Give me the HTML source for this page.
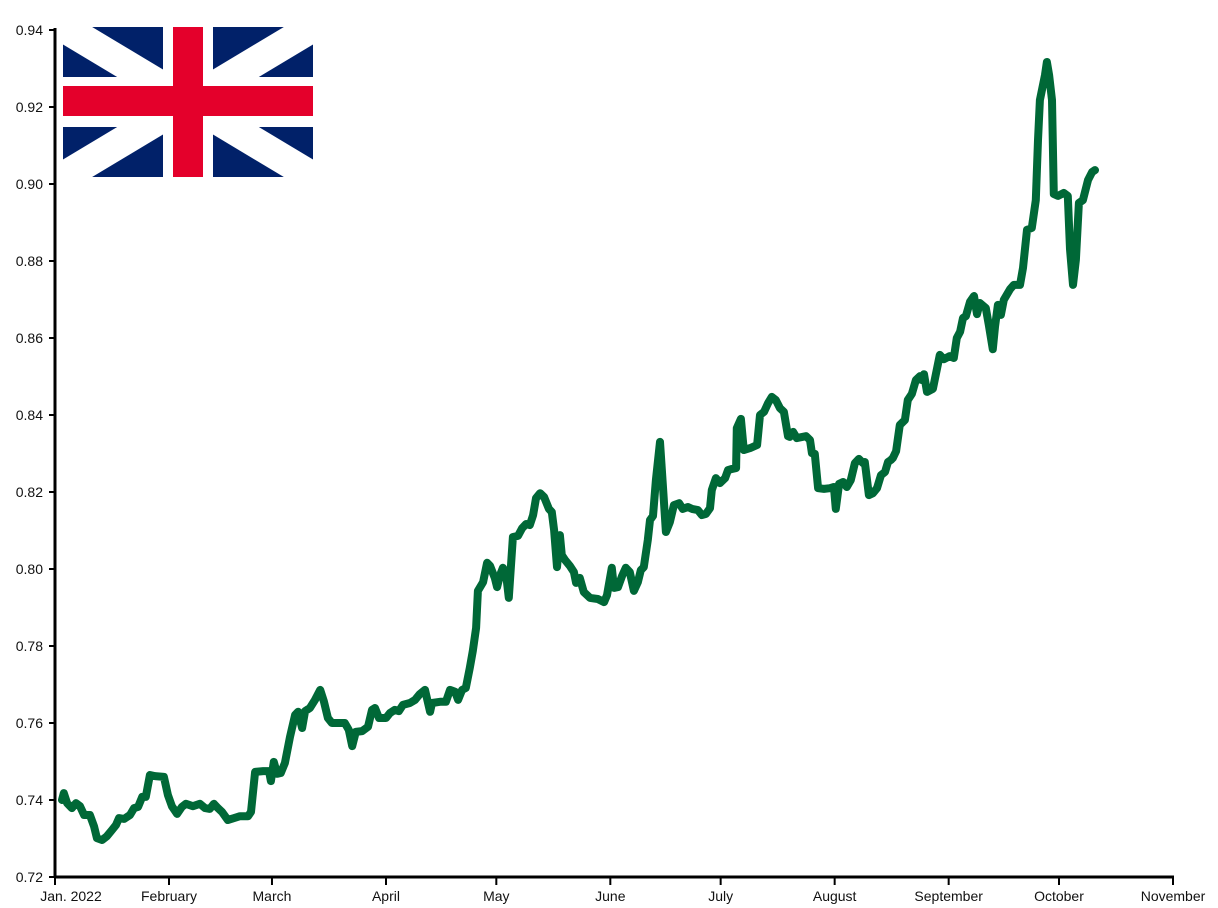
<!DOCTYPE html>
<html><head><meta charset="utf-8"><style>
html,body{margin:0;padding:0;background:#fff;}
svg{display:block;font-family:"Liberation Sans",sans-serif;}
</style></head><body>
<svg id="chart" width="1218" height="908" viewBox="0 0 1218 908" xmlns="http://www.w3.org/2000/svg">
<g>
<svg x="63" y="27" width="250" height="150" viewBox="0 0 250 150">
<rect width="250" height="150" fill="#012169"/>
<line x1="0" y1="0" x2="250" y2="150" stroke="#fff" stroke-width="30"/>
<line x1="250" y1="0" x2="0" y2="150" stroke="#fff" stroke-width="30"/>
<rect x="100" y="0" width="50" height="150" fill="#fff"/>
<rect x="0" y="50" width="250" height="50" fill="#fff"/>
<rect x="110" y="0" width="30" height="150" fill="#e4002b"/>
<rect x="0" y="59" width="250" height="30" fill="#e4002b"/>
</svg>
</g>
<g id="axes"></g>
<path id="line" fill="none" stroke="#006837" stroke-width="8" stroke-linejoin="round" stroke-linecap="round"/>
</svg>
<script>
const days=[1.9,2.4,3.3,4.6,5.7,6.8,7.9,9.5,10.6,11.4,12.8,14.1,15.5,16.6,17.4,18.8,20.4,21.5,22.6,23.7,24.7,25.8,27.2,29.6,30.7,31.8,33.2,34.5,35.6,37.5,39.4,40.8,42.1,43.2,44.3,45.4,47.0,48.7,50.3,52.5,53.3,54.4,56.6,58.2,58.7,59.5,60.4,61.4,62.5,63.9,65.3,66.1,67.2,68.0,69.3,70.7,72.1,73.1,74.2,75.3,78.8,79.9,80.8,81.8,83.5,85.1,86.2,87.0,88.1,90.0,91.1,92.4,93.5,94.6,96.5,97.9,99.2,100.6,102.0,102.5,104.7,106.3,107.4,108.8,109.6,110.7,111.7,112.8,113.6,114.5,115.0,116.4,117.5,118.3,119.6,120.2,121.0,121.8,122.6,123.4,124.5,125.9,127.0,128.1,129.1,130.0,130.8,131.9,133.0,134.3,135.1,135.7,136.5,137.3,137.8,138.7,140.0,141.1,141.7,142.7,143.8,145.5,147.6,149.3,150.1,151.4,152.0,153.1,154.2,155.2,156.3,157.4,158.5,159.3,160.1,161.2,161.8,162.6,163.4,164.5,165.3,166.1,167.2,168.3,169.7,170.7,172.1,173.2,174.8,175.9,177.0,178.1,178.6,179.7,180.8,182.2,183.0,184.1,185.2,185.4,186.5,187.3,189.0,190.9,191.7,192.8,193.9,194.9,196.0,197.1,198.2,199.3,199.8,200.7,201.7,204.2,205.3,205.8,206.6,207.5,209.1,210.7,211.8,212.3,213.2,214.3,215.3,216.4,217.5,218.6,219.7,220.2,221.3,222.4,223.5,224.6,225.7,226.5,227.3,227.8,228.7,229.7,231.1,231.9,233.0,234.1,235.2,235.7,236.3,237.1,238.7,240.6,241.7,243.3,244.4,245.2,246.1,246.9,247.7,248.8,249.9,250.7,251.5,253.1,253.9,255.0,255.6,256.4,257.2,258.0,259.7,260.7,262.4,263.2,264.3,265.6,266.7,267.3,267.8,269.2,269.7,270.3,271.1,271.6,272.7,274.3,275.4,276.0,276.8,277.6,278.4,279.5,280.9,282.0,282.8];
const rates=[0.7400,0.7418,0.7392,0.7379,0.7392,0.7384,0.7361,0.7361,0.7332,0.7301,0.7296,0.7306,0.7322,0.7335,0.7353,0.7351,0.7361,0.7379,0.7382,0.7408,0.7408,0.7465,0.7462,0.7460,0.7413,0.7384,0.7364,0.7382,0.7390,0.7384,0.7390,0.7379,0.7377,0.7390,0.7379,0.7369,0.7348,0.7353,0.7358,0.7358,0.7369,0.7473,0.7475,0.7475,0.7449,0.7499,0.7468,0.7470,0.7496,0.7564,0.7621,0.7629,0.7587,0.7631,0.7639,0.7660,0.7686,0.7657,0.7613,0.7600,0.7600,0.7582,0.7540,0.7577,0.7579,0.7590,0.7634,0.7639,0.7613,0.7613,0.7626,0.7634,0.7631,0.7647,0.7652,0.7660,0.7675,0.7686,0.7629,0.7652,0.7655,0.7655,0.7686,0.7681,0.7660,0.7686,0.7691,0.7743,0.7787,0.7847,0.7943,0.7966,0.8016,0.8008,0.7977,0.7953,0.7984,0.8003,0.7990,0.7925,0.8083,0.8086,0.8106,0.8117,0.8114,0.8140,0.8184,0.8197,0.8187,0.8156,0.8148,0.8101,0.8005,0.8088,0.8036,0.8023,0.8008,0.7992,0.7964,0.7977,0.7940,0.7925,0.7922,0.7914,0.7932,0.8003,0.7951,0.7953,0.7982,0.8003,0.7992,0.7943,0.7966,0.7997,0.8005,0.8075,0.8127,0.8138,0.8231,0.8330,0.8216,0.8096,0.8122,0.8166,0.8171,0.8156,0.8161,0.8156,0.8153,0.8140,0.8143,0.8158,0.8205,0.8236,0.8223,0.8236,0.8257,0.8260,0.8262,0.8366,0.8390,0.8309,0.8314,0.8322,0.8400,0.8408,0.8431,0.8447,0.8439,0.8418,0.8408,0.8345,0.8343,0.8356,0.8340,0.8345,0.8335,0.8301,0.8299,0.8210,0.8208,0.8210,0.8213,0.8156,0.8221,0.8226,0.8213,0.8231,0.8275,0.8286,0.8275,0.8278,0.8192,0.8197,0.8210,0.8244,0.8252,0.8278,0.8283,0.8288,0.8306,0.8374,0.8387,0.8439,0.8455,0.8491,0.8501,0.8491,0.8506,0.8460,0.8468,0.8556,0.8545,0.8553,0.8548,0.8600,0.8616,0.8652,0.8657,0.8694,0.8709,0.8662,0.8691,0.8678,0.8634,0.8571,0.8629,0.8686,0.8660,0.8699,0.8727,0.8738,0.8738,0.8782,0.8881,0.8886,0.8958,0.9114,0.9218,0.9283,0.9317,0.9283,0.9218,0.8974,0.8969,0.8977,0.8969,0.8831,0.8738,0.8803,0.8951,0.8958,0.9010,0.9031,0.9036];
const yTicks=[0.72,0.74,0.76,0.78,0.80,0.82,0.84,0.86,0.88,0.90,0.92,0.94];
const monthLabels=["Jan. 2022","February","March","April","May","June","July","August","September","October","November"];
const monthDays=[0,31,59,90,120,151,181,212,243,273,304];

const X0=55,X1=1173,Y0=877,Y1=30;
const xs=d=>X0+(d/304)*(X1-X0);
const ys=v=>Y0-(v-0.72)/(0.94-0.72)*(Y0-Y1);
const NS="http://www.w3.org/2000/svg";
const ax=document.getElementById('axes');
function mk(t,a){const e=document.createElementNS(NS,t);for(const k in a)e.setAttribute(k,a[k]);return e;}
const yl=mk('line',{x1:X0,y1:Y1-2,x2:X0,y2:Y0+1,stroke:'#000','stroke-width':3});


ax.appendChild(yl);
const xl=mk('line',{x1:X0-1,y1:Y0,x2:X1+1,y2:Y0,stroke:'#000','stroke-width':3});


ax.appendChild(xl);
yTicks.forEach(v=>{
  const y=ys(v);
  const tk=mk('line',{x1:X0-6,y1:y,x2:X0,y2:y,stroke:'#000','stroke-width':2});
  
  
  ax.appendChild(tk);
  const t=mk('text',{x:X0-12,y:y+5,'text-anchor':'end','font-size':14,fill:'#111'});
  t.textContent=v.toFixed(2);
  
  
  ax.appendChild(t);
});
monthDays.forEach((d,i)=>{
  const x=xs(d);
  const tk=mk('line',{x1:x,y1:Y0,x2:x,y2:Y0+8,stroke:'#000','stroke-width':2});
  
  
  ax.appendChild(tk);
  const t=mk('text',{x:(i===0?x+16:x),y:Y0+24,'text-anchor':'middle','font-size':14,fill:'#111'});
  t.textContent=monthLabels[i];
  
  
  ax.appendChild(t);
});
let dstr='';
days.forEach((d,i)=>{dstr+=(i?'L':'M')+xs(d).toFixed(1)+' '+ys(rates[i]).toFixed(1);});
document.getElementById('line').setAttribute('d',dstr);
</script>
</body></html>
